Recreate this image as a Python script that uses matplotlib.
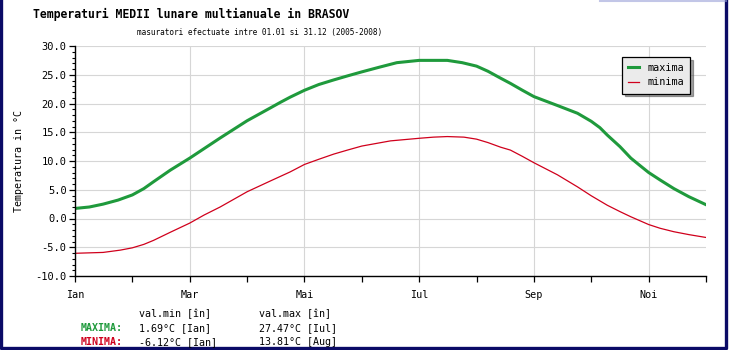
import matplotlib
matplotlib.use("Agg")
import matplotlib.pyplot as plt
from matplotlib.lines import Line2D
from matplotlib.ticker import MultipleLocator, FixedLocator, FormatStrFormatter

# month position (Ian = 0 ... Dec = 11) and temperatures
MAX_MONTHS = [0, 0.25, 0.49, 0.75, 1, 1.2, 1.37, 1.66, 2, 2.53, 3, 3.4, 3.58, 3.75,
              4, 4.25, 4.51, 4.75, 5, 5.3, 5.61, 6, 6.49, 6.75, 7, 7.2, 7.42, 7.59,
              7.8, 8, 8.41, 8.76, 9, 9.15, 9.28, 9.5, 9.69, 9.85, 10, 10.2, 10.44,
              10.7, 11]
MAX_VALUES = [1.75, 2.0, 2.5, 3.2, 4.1, 5.2, 6.4, 8.4, 10.5, 14.0, 17.0, 19.2, 20.2,
              21.1, 22.3, 23.3, 24.1, 24.8, 25.5, 26.3, 27.1, 27.5, 27.5, 27.1, 26.5,
              25.6, 24.4, 23.5, 22.3, 21.2, 19.65, 18.3, 16.9, 15.8, 14.5, 12.5, 10.5,
              9.2, 8.0, 6.7, 5.2, 3.8, 2.4]

MIN_MONTHS = [0, 0.49, 0.79, 1, 1.2, 1.37, 1.66, 2, 2.25, 2.53, 3, 3.4, 3.75, 4,
              4.25, 4.51, 4.75, 5, 5.5, 6, 6.25, 6.49, 6.78, 7, 7.2, 7.42, 7.59, 7.8,
              8, 8.41, 8.76, 9, 9.28, 9.5, 9.69, 10, 10.2, 10.44, 10.7, 11]
MIN_VALUES = [-6.05, -5.9, -5.5, -5.1, -4.5, -3.8, -2.4, -0.8, 0.6, 2.0, 4.65, 6.5,
              8.1, 9.4, 10.3, 11.2, 11.9, 12.6, 13.5, 13.95, 14.15, 14.25, 14.15, 13.8,
              13.2, 12.4, 11.9, 10.8, 9.7, 7.6, 5.5, 3.95, 2.3, 1.2, 0.3, -1.05, -1.7,
              -2.3, -2.8, -3.3]

MONTH_LABELS = ["Ian", "Mar", "Mai", "Iul", "Sep", "Noi"]
LABEL_MONTHS = [0, 2, 4, 6, 8, 10]

SUMMARY_ROWS = [
    ("MAXIMA:", "1.69°C [Ian]", "27.47°C [Iul]"),
    ("MINIMA:", "-6.12°C [Ian]", "13.81°C [Aug]"),
]

GREEN = "#1f9a3c"
RED = "#d0001c"
NAVY = "#0b0b66"
MONO = "DejaVu Sans Mono"

W, H = 730, 350

fig = plt.figure(figsize=(W / 100, H / 100), dpi=100)
fig.patch.set_facecolor("white")

# plot area in pixels: x 75..706, y 46..276
ax = fig.add_axes([75 / W, (H - 276) / H, 631 / W, 230 / H])

ax.plot(MAX_MONTHS, MAX_VALUES, color=GREEN, linewidth=2.2, label="maxima",
        solid_joinstyle="round")
ax.plot(MIN_MONTHS, MIN_VALUES, color=RED, linewidth=0.9, label="minima",
        solid_joinstyle="round")

ax.set_xlim(0, 11)
ax.set_ylim(-10, 30)

ax.xaxis.set_major_locator(FixedLocator(LABEL_MONTHS))
ax.set_xticklabels(MONTH_LABELS)
ax.xaxis.set_minor_locator(FixedLocator([1, 3, 5, 7, 9, 11]))
ax.yaxis.set_major_locator(MultipleLocator(5))
ax.yaxis.set_minor_locator(MultipleLocator(1))
ax.yaxis.set_major_formatter(FormatStrFormatter("%.1f"))

ax.tick_params(axis="x", which="both", direction="out", length=4, width=0.9,
               color="black", labelsize=7.3, pad=6)
ax.tick_params(axis="y", which="major", direction="out", length=4, width=0.9,
               labelsize=7.5, pad=2)
ax.tick_params(axis="y", which="minor", direction="out", length=2.2, width=0.8)
for lab in ax.get_xticklabels() + ax.get_yticklabels():
    lab.set_fontfamily(MONO)

ax.grid(True, which="major", color="#d6d6d6", linewidth=0.8)
ax.set_axisbelow(True)
for side in ["top", "right"]:
    ax.spines[side].set_visible(False)
for side in ["left", "bottom"]:
    ax.spines[side].set_linewidth(1.0)

ax.set_ylabel("Temperatura in °C", family=MONO, fontsize=7.2, labelpad=8)

leg = ax.legend(loc="upper right", bbox_to_anchor=(0.983, 0.975),
                prop={"family": MONO, "size": 7.3},
                frameon=True, fancybox=False, shadow=True, handlelength=1.1,
                handletextpad=0.8, borderpad=0.6, labelspacing=0.45)
leg.get_frame().set_facecolor("#ebebeb")
leg.get_frame().set_edgecolor("black")
leg.get_frame().set_linewidth(0.9)
leg.get_frame().set_alpha(1)

# titles
fig.text(33 / W, 1 - 14 / H, "Temperaturi MEDII lunare multianuale in BRASOV",
         family=MONO, fontsize=8.3, fontweight="bold", ha="left", va="center")
fig.text(260 / W, 1 - 32 / H, "masuratori efectuate intre 01.01 si 31.12 (2005-2008)",
         family=MONO, fontsize=5.6, ha="center", va="center")

# summary block below the chart
fig.text(139 / W, 1 - 314 / H, "val.min [în]", family=MONO, fontsize=7.2,
         ha="left", va="center")
fig.text(259 / W, 1 - 314 / H, "val.max [în]", family=MONO, fontsize=7.2,
         ha="left", va="center")
row_y = [328, 342]
row_colors = [GREEN, RED]
for (name, vmin, vmax), y, c in zip(SUMMARY_ROWS, row_y, row_colors):
    fig.text(123 / W, 1 - y / H, name, family=MONO, fontsize=7.2, fontweight="bold",
             color=c, ha="right", va="center")
    fig.text(139 / W, 1 - y / H, vmin, family=MONO, fontsize=7.2, ha="left", va="center")
    fig.text(259 / W, 1 - y / H, vmax, family=MONO, fontsize=7.2, ha="left", va="center")

# navy frame on the left, right and bottom of the image
frame_x = [1.5 / W, 1.5 / W, 726 / W, 726 / W]
frame_y = [1.0, 2 / H, 2 / H, 1.0]
fig.lines.append(Line2D(frame_x, frame_y, transform=fig.transFigure,
                        color=NAVY, linewidth=2.4))
# faint blue glow at the top right corner
fig.lines.append(Line2D([600 / W, 726 / W], [1 - 1 / H, 1 - 1 / H],
                        transform=fig.transFigure, color="#9aa0d8", linewidth=1.5,
                        alpha=0.6))

fig.savefig("out.png", dpi=100)
